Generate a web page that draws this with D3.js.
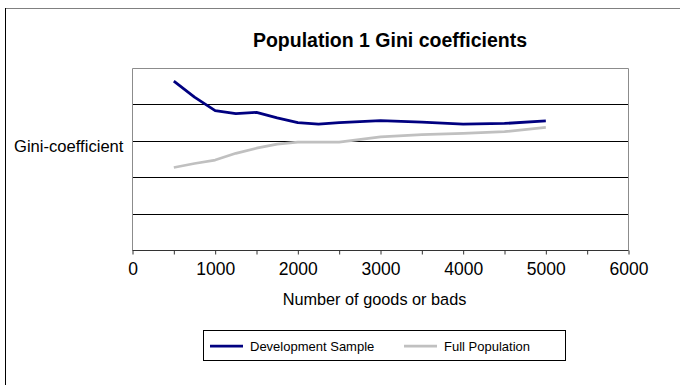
<!DOCTYPE html>
<html>
<head>
<meta charset="utf-8">
<script src="https://cdn.jsdelivr.net/npm/d3@7"></script>
<style>
  html, body { margin: 0; padding: 0; background: #fff; }
  svg { display: block; font-family: "Liberation Sans", Arial, sans-serif; }
</style>
</head>
<body>
<svg id="chart" width="680" height="385"></svg>
<script>
// Sample sizes (number of goods or bads) at which the Gini coefficient was measured
const goods = [500, 750, 1000, 1250, 1500, 1750, 2000, 2250, 2500, 3000, 3500, 4000, 4500, 5000];
// Gini coefficient on the development sample
const devSample = [0.931, 0.843, 0.769, 0.752, 0.759, 0.729, 0.703, 0.694, 0.702, 0.713, 0.706, 0.695, 0.698, 0.712];
// Gini coefficient on the full population
const fullPop = [0.456, 0.478, 0.497, 0.534, 0.562, 0.584, 0.596, 0.596, 0.596, 0.624, 0.637, 0.643, 0.653, 0.677];

const xTicks = [0, 500, 1000, 1500, 2000, 2500, 3000, 3500, 4000, 4500, 5000, 5500, 6000];
const yTicks = [0, 0.2, 0.4, 0.6, 0.8, 1.0];

const seriesNames = ["Development Sample", "Full Population"];
const seriesColors = ["#000080", "#c0c0c0"];

const svg = d3.select("#chart");

// Outer chart frame
svg.append("line").attr("x1", 5).attr("x2", 680).attr("y1", 8.5).attr("y2", 8.5)
  .attr("stroke", "#808080").attr("stroke-width", 1);
svg.append("line").attr("x1", 5.5).attr("x2", 5.5).attr("y1", 8).attr("y2", 385)
  .attr("stroke", "#000").attr("stroke-width", 1);

const plot = { left: 132.5, right: 628.5, top: 68.5, bottom: 250.5 };

const x = d3.scaleLinear().domain([0, 6000]).range([plot.left, plot.right]);
const y = d3.scaleLinear().domain([0, 1]).range([plot.bottom, plot.top]);

// Horizontal gridlines
svg.append("g")
  .selectAll("line")
  .data(yTicks.slice(1, -1))
  .join("line")
  .attr("x1", plot.left).attr("x2", plot.right)
  .attr("y1", d => Math.round(y(d) - 0.5) + 0.5)
  .attr("y2", d => Math.round(y(d) - 0.5) + 0.5)
  .attr("stroke", "#000").attr("stroke-width", 1);

// Plot area border (top, right, left)
svg.append("path")
  .attr("d", `M${plot.left},${plot.bottom}V${plot.top}H${plot.right}V${plot.bottom}`)
  .attr("fill", "none").attr("stroke", "#8c8c8c").attr("stroke-width", 1);

// X axis
const xAxis = d3.axisBottom(x)
  .tickValues(xTicks)
  .tickSize(4)
  .tickSizeOuter(0)
  .tickPadding(8)
  .tickFormat(d => d % 1000 === 0 ? d3.format("d")(d) : "");

const gx = svg.append("g")
  .attr("transform", `translate(0,${plot.bottom})`)
  .call(xAxis);
gx.select(".domain").attr("stroke", "#333").attr("d", `M${plot.left},0H${plot.right}`);
gx.selectAll(".tick line").attr("stroke", "#333");
gx.selectAll(".tick text")
  .attr("font-family", "Liberation Sans, Arial, sans-serif")
  .attr("font-size", 17.5).attr("fill", "#000");

// Axis titles
svg.append("text")
  .attr("x", (plot.left + plot.right) / 2 - 6).attr("y", 305)
  .attr("text-anchor", "middle").attr("font-size", 16.3).attr("fill", "#000")
  .text("Number of goods or bads");

svg.append("text")
  .attr("x", 14).attr("y", 152)
  .attr("font-size", 16.6).attr("fill", "#000")
  .text("Gini-coefficient");

// Title
svg.append("text")
  .attr("x", 390).attr("y", 47)
  .attr("text-anchor", "middle").attr("font-size", 19.5).attr("font-weight", "bold").attr("fill", "#000")
  .text("Population 1 Gini coefficients");

// Series lines
const line = d3.line()
  .x(d => x(d[0]))
  .y(d => y(d[1]));

[devSample, fullPop].forEach((vals, i) => {
  svg.append("path")
    .datum(goods.map((g, k) => [g, vals[k]]))
    .attr("fill", "none")
    .attr("stroke", seriesColors[i])
    .attr("stroke-width", 2.75)
    .attr("stroke-linejoin", "round")
    .attr("d", line);
});

// Legend
const legend = svg.append("g");
legend.append("rect")
  .attr("x", 203.5).attr("y", 330.5).attr("width", 362).attr("height", 30)
  .attr("fill", "#fff").attr("stroke", "#000").attr("stroke-width", 1);

const legendX = [210, 404];
seriesNames.forEach((name, i) => {
  legend.append("line")
    .attr("x1", legendX[i]).attr("x2", legendX[i] + 33)
    .attr("y1", 346).attr("y2", 346)
    .attr("stroke", seriesColors[i]).attr("stroke-width", 2.75);
  legend.append("text")
    .attr("x", legendX[i] + 40).attr("y", 350.5)
    .attr("font-size", 13).attr("fill", "#000")
    .text(name);
});
</script>
</body>
</html>
